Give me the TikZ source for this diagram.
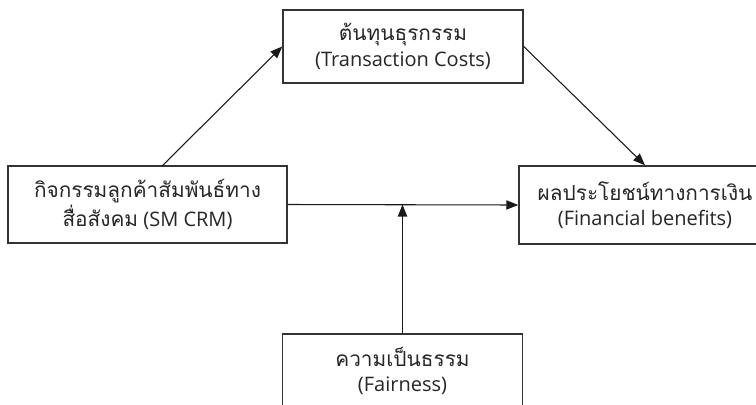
\documentclass[tikz,border=0pt]{standalone}
\usepackage{fontspec}
\setmainfont{Open Sans}
\newfontfamily\thaifont[Script=Thai,Scale=1.04]{Loma}
\usetikzlibrary{arrows.meta}
\tikzset{
  box/.style={draw=black!80, line width=1.1pt, fill=white, align=center, inner sep=0pt,
    font=\fontsize{15}{19}\selectfont, text=black!85},
  arr/.style={draw=black!90, line width=0.8pt, -{Triangle[length=9pt,width=7pt]}},
}
\begin{document}
\begin{tikzpicture}[x=0.75pt,y=-0.75pt]
\path[use as bounding box, clip] (0,0) rectangle (756,404);
\fill[white] (0,0) rectangle (756,404);
\node[box, minimum width=240*0.75pt, minimum height=73*0.75pt] (tc) at (403,46.5)
  {{\thaifont ต้นทุนธุรกรรม}\\(Transaction Costs)};
\node[box, minimum width=279*0.75pt, minimum height=77*0.75pt] (sm) at (147.5,204.5)
  {{\thaifont กิจกรรมลูกค้าสัมพันธ์ทาง}\\{\thaifont สื่อสังคม} (SM CRM)};
\node[box, minimum width=252*0.75pt, minimum height=78*0.75pt] (fb) at (645,205)
  {{\thaifont ผลประโยชน์ทางการเงิน}\\(Financial benefits)};
\node[box, minimum width=240*0.75pt, minimum height=74*0.75pt] (fa) at (402.5,371)
  {{\thaifont ความเป็นธรรม}\\(Fairness)};
\coordinate (smtop) at (162,166);
\coordinate (mid) at (fa.north |- sm.east);
\draw[arr] (smtop) -- (tc.west);
\draw[arr] (tc.east) -- (fb.north);
\draw[arr] (sm.east) -- (fb.west);
\draw[arr] (fa.north) -- (mid);
\end{tikzpicture}
\end{document}
